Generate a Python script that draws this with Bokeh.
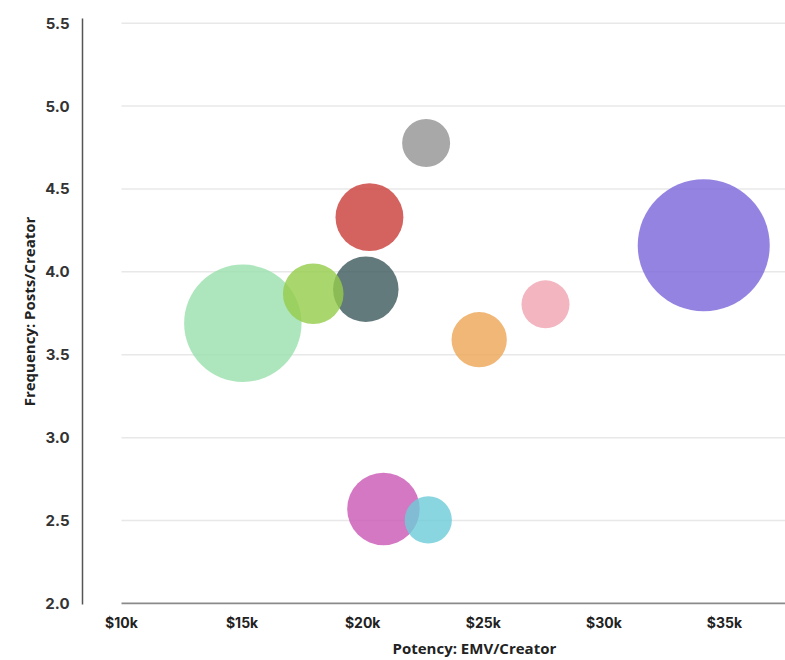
from bokeh.plotting import figure
from bokeh.models import ColumnDataSource, FixedTicker, Range1d, Title, NumeralTickFormatter
from bokeh.embed import file_html
from bokeh.resources import INLINE
import numpy as np

# ---- data ----
emv_per_creator = [34140, 15030, 20860, 20280, 20130, 17950, 24830, 22630, 27580, 22720]
posts_per_creator = [4.16, 3.69, 2.57, 4.33, 3.895, 3.868, 3.591, 4.777, 3.804, 2.504]
bubble_value = [484, 383, 146, 128, 119, 102, 85, 64, 64, 62]
colors = ["#7b64d9", "#99e0ab", "#c956b5", "#c93c37", "#3c595b",
          "#95cc4a", "#eca554", "#929292", "#f0a3b0", "#6dccd8"]
x_ticks = [10000, 15000, 20000, 25000, 30000, 35000]
x_tick_labels = ["$10k", "$15k", "$20k", "$25k", "$30k", "$35k"]
y_ticks = [2.0, 2.5, 3.0, 3.5, 4.0, 4.5, 5.0, 5.5]

FONT = "Inter"
TITLE_FONT = "Open Sans"

source = ColumnDataSource(dict(
    x=emv_per_creator,
    y=posts_per_creator,
    size=[6 * np.sqrt(v) for v in bubble_value],
    color=colors,
))

p = figure(width=785, height=660, output_backend="svg", toolbar_location=None,
           x_range=Range1d(8383, 37530), y_range=Range1d(1.994, 5.528),
           min_border_left=82, min_border_right=0, min_border_top=18, min_border_bottom=56)
p.outline_line_color = None
p.background_fill_color = "white"
p.border_fill_color = "white"
p.xgrid.visible = False
p.ygrid.visible = False

# manual gridlines starting at $10k
grid_y = [t for t in y_ticks if t > 2.0]
p.segment(x0=[x_ticks[0]] * len(grid_y), y0=grid_y, x1=[40000] * len(grid_y), y1=grid_y,
          line_color="#e8e8e8", line_width=1.5)
# x axis line
p.segment(x0=[x_ticks[0]], y0=[2.0], x1=[40000], y1=[2.0], line_color="#8a8a8a", line_width=2)

p.scatter("x", "y", size="size", source=source, fill_color="color", fill_alpha=0.8,
          line_color=None)

# y axis
ya = p.yaxis[0]
ya.ticker = FixedTicker(ticks=y_ticks)
ya.formatter = NumeralTickFormatter(format="0.0")
ya.major_tick_line_color = None
ya.minor_tick_line_color = None
ya.major_tick_out = 0
ya.major_tick_in = 0
ya.axis_line_color = "#555555"
ya.axis_line_width = 1.5
ya.major_label_standoff = 13
ya.major_label_text_font = FONT
ya.major_label_text_font_size = "15px"
ya.major_label_text_font_style = "bold"
ya.major_label_text_color = "#333333"
ya.axis_label = "Frequency: Posts/Creator"
ya.axis_label_text_font = TITLE_FONT
ya.axis_label_text_font_size = "15px"
ya.axis_label_text_font_style = "bold"
ya.axis_label_text_color = "#222222"
ya.axis_label_standoff = 3

# x axis
xa = p.xaxis[0]
xa.ticker = FixedTicker(ticks=x_ticks)
xa.major_label_overrides = {t: l for t, l in zip(x_ticks, x_tick_labels)}
xa.axis_line_color = None
xa.major_tick_line_color = None
xa.minor_tick_line_color = None
xa.major_tick_out = 0
xa.major_tick_in = 0
xa.major_label_standoff = 9
xa.major_label_text_font = FONT
xa.major_label_text_font_size = "14px"
xa.major_label_text_font_style = "bold"
xa.major_label_text_color = "#222222"

p.add_layout(Title(text="Potency: EMV/Creator", align="left", offset=310, standoff=4,
                   text_font=TITLE_FONT, text_font_size="15px", text_font_style="bold",
                   text_color="#222222"), "below")

open("out.html", "w").write(file_html(p, INLINE))
